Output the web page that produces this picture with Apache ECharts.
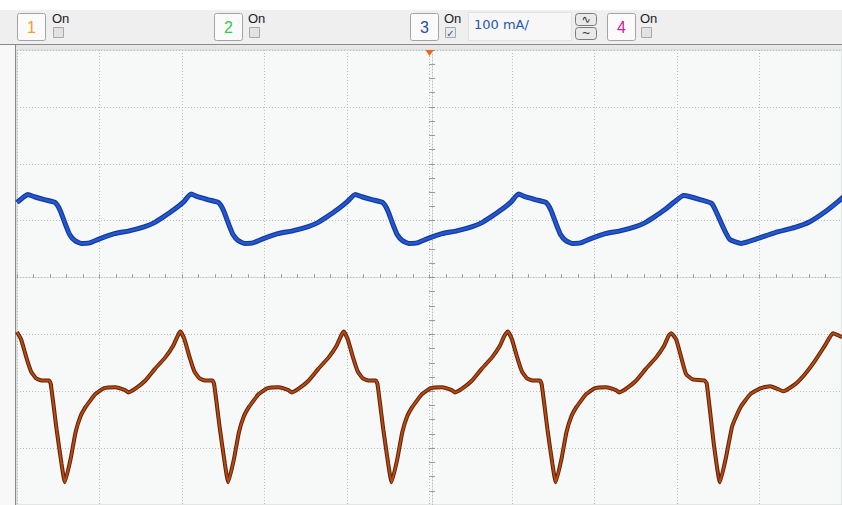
<!DOCTYPE html>
<html><head><meta charset="utf-8">
<script src="https://cdn.jsdelivr.net/npm/echarts@6/dist/echarts.min.js"></script>
<style>html,body{margin:0;padding:0;background:#fff;}#c{width:842px;height:505px;}</style>
</head><body><div id="c"></div>
<script>
// time in divisions (0..10), amplitude in divisions (-4..4)
const blueX = [0.00,0.06,0.13,0.21,0.33,0.46,0.52,0.58,0.64,0.70,0.78,0.88,1.00,1.18,1.36,1.54,1.66,1.78,1.90,2.02,
  2.11,2.19,2.31,2.44,2.50,2.56,2.62,2.68,2.76,2.86,2.98,3.16,3.34,3.52,3.64,3.76,3.88,4.00,
  4.10,4.18,4.30,4.43,4.49,4.55,4.61,4.67,4.75,4.85,4.97,5.15,5.33,5.51,5.63,5.75,5.87,5.99,
  6.08,6.16,6.28,6.41,6.47,6.53,6.59,6.65,6.73,6.83,6.95,7.13,7.31,7.49,7.61,7.73,7.85,7.97,
  8.08,8.16,8.28,8.42,8.48,8.56,8.64,8.78,8.95,9.19,9.43,9.61,9.80,9.94,10.05];
const blueY = [1.32,1.39,1.46,1.42,1.37,1.32,1.19,0.96,0.75,0.65,0.60,0.61,0.68,0.77,0.82,0.89,0.96,1.07,1.19,1.33,
  1.47,1.42,1.37,1.32,1.19,0.96,0.75,0.65,0.60,0.61,0.68,0.77,0.82,0.89,0.96,1.07,1.19,1.33,
  1.46,1.42,1.37,1.32,1.19,0.96,0.75,0.65,0.60,0.61,0.68,0.77,0.82,0.89,0.96,1.07,1.19,1.33,
  1.47,1.42,1.37,1.32,1.19,0.96,0.75,0.65,0.60,0.61,0.68,0.77,0.82,0.89,0.96,1.07,1.19,1.33,
  1.44,1.42,1.37,1.30,1.14,0.88,0.67,0.60,0.67,0.79,0.88,0.98,1.16,1.32,1.46];
const brownX = [0.00,0.05,0.11,0.17,0.23,0.30,0.39,0.41,0.48,0.54,0.58,0.65,0.71,0.77,0.83,0.89,0.95,1.05,1.19,1.31,1.35,1.43,1.55,1.67,1.80,1.89,1.95,
  1.98,2.03,2.09,2.15,2.21,2.28,2.37,2.39,2.46,2.52,2.56,2.63,2.69,2.75,2.81,2.87,2.93,3.03,3.17,3.29,3.33,3.41,3.53,3.65,3.78,3.87,3.93,
  3.96,4.01,4.07,4.13,4.19,4.26,4.35,4.37,4.44,4.50,4.54,4.61,4.67,4.73,4.79,4.85,4.91,5.01,5.15,5.27,5.31,5.39,5.51,5.63,5.76,5.85,5.91,
  5.95,6.00,6.06,6.12,6.18,6.25,6.34,6.36,6.43,6.49,6.53,6.60,6.66,6.72,6.78,6.84,6.90,7.00,7.14,7.26,7.30,7.38,7.50,7.62,7.75,7.84,7.90,
  7.93,7.99,8.05,8.11,8.19,8.33,8.36,8.45,8.52,8.59,8.67,8.77,8.89,9.01,9.13,9.22,9.29,9.43,9.55,9.67,9.80,9.89,10.00];
const brownY = [-0.96,-1.09,-1.39,-1.65,-1.77,-1.81,-1.81,-1.88,-2.67,-3.28,-3.60,-3.19,-2.72,-2.44,-2.28,-2.16,-2.05,-1.95,-1.93,-1.98,-2.02,-1.96,-1.82,-1.61,-1.40,-1.21,-1.02,
  -0.95,-1.09,-1.39,-1.65,-1.77,-1.81,-1.81,-1.88,-2.67,-3.28,-3.60,-3.19,-2.72,-2.44,-2.28,-2.16,-2.05,-1.95,-1.93,-1.98,-2.02,-1.96,-1.82,-1.61,-1.40,-1.21,-1.02,
  -0.95,-1.09,-1.39,-1.65,-1.77,-1.81,-1.81,-1.88,-2.67,-3.28,-3.60,-3.19,-2.72,-2.44,-2.28,-2.16,-2.05,-1.95,-1.93,-1.98,-2.02,-1.96,-1.82,-1.61,-1.40,-1.21,-1.02,
  -0.95,-1.09,-1.39,-1.65,-1.77,-1.81,-1.81,-1.88,-2.67,-3.28,-3.60,-3.19,-2.72,-2.44,-2.28,-2.16,-2.05,-1.95,-1.93,-1.98,-2.02,-1.96,-1.82,-1.61,-1.40,-1.21,-1.02,
  -0.98,-1.09,-1.40,-1.70,-1.79,-1.81,-1.86,-2.97,-3.60,-3.19,-2.61,-2.28,-2.05,-1.95,-1.91,-1.96,-2.00,-1.88,-1.70,-1.47,-1.18,-0.98,-1.05];
const channelLabels = ['1','2','3','4'];
const channelOn = 'On';
const scaleText = '100 mA/';
const triggerPos = [5, 4];

const zip = (xs, ys) => xs.map((x, i) => [x, ys[i]]);
const blueData = zip(blueX, blueY);
const brownData = zip(brownX, brownY);

const gridColor = '#b8bcba';
const dotted = {color: gridColor, width: 1, type: [1, 2]};

function button(x, label, color) {
  return [
    {type:'rect', z:100, shape:{x:x+0.5, y:13.5, width:28, height:27, r:2}, style:{fill:'#fbfbfb', stroke:'#a4a4a4', lineWidth:1}},
    {type:'text', z:101, style:{text:label, x:x+14.5, y:27.5, fill:color, font:'16px "Liberation Sans", Arial, sans-serif', textAlign:'center', textVerticalAlign:'middle'}}
  ];
}
function onBox(x, checked) {
  const els = [
    {type:'text', z:101, style:{text:channelOn, x:x, y:18.5, fill:'#222', font:'13px "Liberation Sans", Arial, sans-serif', textAlign:'left', textVerticalAlign:'middle'}},
    {type:'rect', z:100, shape:{x:x+1.5, y:27.5, width:10, height:10}, style:{fill:checked ? '#e6eaf2' : '#e2e2e2', stroke:'#a8a8a8', lineWidth:1}}
  ];
  if (checked) els.push({type:'text', z:102, style:{text:'✓', x:x+6.5, y:33, fill:'#3a4f80', font:'bold 10px "DejaVu Sans", sans-serif', textAlign:'center', textVerticalAlign:'middle'}});
  return els;
}

const graphics = [
  {type:'rect', z:-10, shape:{x:0, y:0, width:842, height:10}, style:{fill:'#ffffff'}},
  {type:'rect', z:-10, shape:{x:0, y:10, width:842, height:34}, style:{fill:'#efefef'}},
  {type:'rect', z:-10, shape:{x:0, y:44, width:15, height:461}, style:{fill:'#f8f8f8'}},
  {type:'rect', z:-10, shape:{x:15, y:44, width:827, height:461}, style:{fill:'#e6e8e7'}},
  {type:'line', z:-9, shape:{x1:0, y1:44.5, x2:842, y2:44.5}, style:{stroke:'#8a8a8a', lineWidth:1}},
  {type:'line', z:-9, shape:{x1:15.5, y1:44, x2:15.5, y2:505}, style:{stroke:'#8a8a8a', lineWidth:1}},
  ...button(17, channelLabels[0], '#f0a020'),
  ...onBox(52, false),
  ...button(214, channelLabels[1], '#2ecc40'),
  ...onBox(248, false),
  ...button(410, channelLabels[2], '#1f4f9f'),
  ...onBox(444, true),
  {type:'rect', z:100, shape:{x:468.5, y:12.5, width:103, height:28}, style:{fill:'#f7f7f7', stroke:'#e2e2e2', lineWidth:1}},
  {type:'text', z:101, style:{text:scaleText, x:474, y:24, fill:'#2457b0', font:'13px "DejaVu Sans", sans-serif', textAlign:'left', textVerticalAlign:'middle'}},
  {type:'rect', z:100, shape:{x:575.5, y:13.5, width:21, height:12, r:3}, style:{fill:'#e9e9e9', stroke:'#7a7a7a', lineWidth:1}},
  {type:'text', z:101, style:{text:'∿', x:586, y:19.5, fill:'#333', font:'11px "DejaVu Sans", sans-serif', textAlign:'center', textVerticalAlign:'middle'}},
  {type:'rect', z:100, shape:{x:575.5, y:27.5, width:21, height:12, r:3}, style:{fill:'#e9e9e9', stroke:'#7a7a7a', lineWidth:1}},
  {type:'text', z:101, style:{text:'~', x:586, y:33.5, fill:'#333', font:'11px "DejaVu Sans", sans-serif', textAlign:'center', textVerticalAlign:'middle'}},
  ...button(607, channelLabels[3], '#d0209a'),
  ...onBox(640, false)
];

const chart = echarts.init(document.getElementById('c'), null, {renderer:'svg'});
chart.setOption({
  animation: false,
  backgroundColor: '#ffffff',
  grid: {left:17, top:50, width:830, height:456, show:true, backgroundColor:'#f6f9f8', borderColor:'#cfd4d2', borderWidth:1},
  xAxis: [
    {type:'value', min:0, max:10, interval:1,
      splitLine:{show:true, lineStyle:dotted},
      axisLine:{show:true, onZero:true, lineStyle:dotted},
      axisTick:{show:true, inside:true, length:3, lineStyle:{color:'#999'}},
      minorTick:{show:true, splitNumber:5, length:3, lineStyle:{color:'#999'}},
      axisLabel:{show:false}},
    {type:'value', min:0, max:10, interval:1,
      splitLine:{show:false},
      axisLine:{show:false, onZero:true},
      axisTick:{show:true, inside:false, length:3, lineStyle:{color:'#999'}},
      minorTick:{show:true, splitNumber:5, length:3, lineStyle:{color:'#999'}},
      axisLabel:{show:false}}
  ],
  yAxis: [
    {type:'value', min:-4, max:4, interval:1, position:'left', offset:-415,
      splitLine:{show:true, lineStyle:dotted},
      axisLine:{show:true, onZero:false, lineStyle:dotted},
      axisTick:{show:true, inside:true, length:3, lineStyle:{color:'#999'}},
      minorTick:{show:true, splitNumber:4, length:3, lineStyle:{color:'#999'}},
      axisLabel:{show:false}},
    {type:'value', min:-4, max:4, interval:1, position:'left', offset:-415,
      splitLine:{show:false},
      axisLine:{show:false, onZero:false},
      axisTick:{show:true, inside:false, length:3, lineStyle:{color:'#999'}},
      minorTick:{show:true, splitNumber:4, length:3, lineStyle:{color:'#999'}},
      axisLabel:{show:false}}
  ],
  graphic: {elements: graphics},
  series: [
    {type:'line', data:blueData, showSymbol:false, smooth:0.18, z:3, silent:true,
      lineStyle:{color:'#143a9e', width:5}},
    {type:'line', data:blueData, showSymbol:false, smooth:0.18, z:4, silent:true,
      lineStyle:{color:'#2358d0', width:2.5}},
    {type:'line', data:brownData, showSymbol:false, smooth:0.15, z:3, silent:true,
      lineStyle:{color:'#5e2208', width:4}},
    {type:'line', data:brownData, showSymbol:false, smooth:0.15, z:4, silent:true,
      lineStyle:{color:'#b64a12', width:2},
      markPoint:{silent:true, symbol:'triangle', symbolRotate:180, symbolSize:[8,6], symbolOffset:[0,3],
        label:{show:false}, itemStyle:{color:'#e8661e'}, data:[{coord:triggerPos}]}}
  ]
});
</script></body></html>
